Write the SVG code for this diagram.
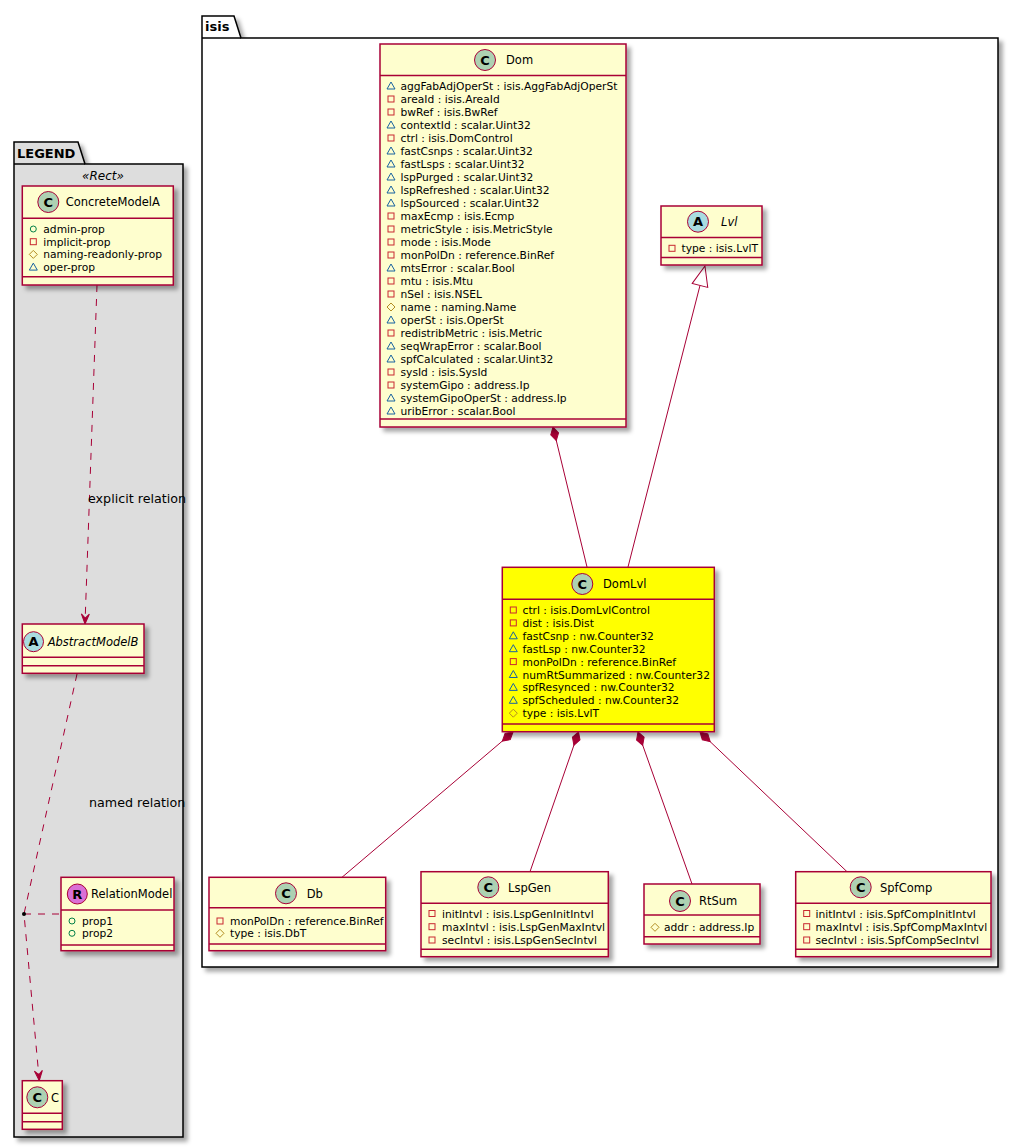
<svg xmlns="http://www.w3.org/2000/svg" width="1020" height="1148" viewBox="0 0 1020 1148">
<defs>
<filter id="sh" x="-20%" y="-20%" width="150%" height="150%">
<feDropShadow dx="4" dy="4" stdDeviation="2" flood-color="#000" flood-opacity="0.35"/>
</filter>
<marker id="diamond" markerUnits="userSpaceOnUse" markerWidth="16" markerHeight="10" refX="0" refY="0" orient="auto" overflow="visible">
<path d="M0,0 L7,-4 L14,0 L7,4 Z" fill="#A80036" stroke="#A80036" stroke-width="1"/>
</marker>
<marker id="tri" markerUnits="userSpaceOnUse" markerWidth="22" markerHeight="18" refX="0" refY="0" orient="auto" overflow="visible">
<path d="M0,-8 L20,0 L0,8 Z" fill="#FFFFFF" stroke="#A80036" stroke-width="1"/>
</marker>
<marker id="open" markerUnits="userSpaceOnUse" markerWidth="12" markerHeight="10" refX="0" refY="0" orient="auto" overflow="visible">
<path d="M0,0 L-10,-4 L-6,0 L-10,4 Z" fill="#A80036" stroke="#A80036" stroke-width="1"/>
</marker>
<rect id="priv" x="-3" y="-3" width="6" height="6" fill="none" stroke="#C82930" stroke-width="1"/>
<polygon id="pkg" points="-4,3 0,-4 4,3" fill="none" stroke="#1963A0" stroke-width="1"/>
<polygon id="prot" points="0,-4 4,0 0,4 -4,0" fill="none" stroke="#B38D22" stroke-width="1"/>
<circle id="pub" cx="0" cy="0" r="3" fill="none" stroke="#038048" stroke-width="1"/>
</defs>
<style>
.box{fill:#FEFECE;stroke:#A80036;stroke-width:1.5;filter:url(#sh)}
.hl{fill:#FFFF00}
.sep{stroke:#A80036;stroke-width:1.5}
.spot{stroke:#A80036;stroke-width:1}
.sC{fill:#ADD1B2}
.sA{fill:#A9DCDF}
.sR{fill:#DA70D6}
.sl{font-family:"DejaVu Sans",sans-serif;font-weight:bold;font-size:13px;text-anchor:middle;fill:#000}
.nm{font-family:"DejaVu Sans",sans-serif;font-size:11.5px;fill:#000}
.it{font-style:italic}
.at{font-family:"DejaVu Sans",sans-serif;font-size:10.7px;fill:#000}
.lbl{font-family:"DejaVu Sans",sans-serif;font-size:12.7px;fill:#000}
.pk{fill:#FFFFFF;stroke:#000;stroke-width:1.5;filter:url(#sh)}
.pkl{fill:#DDDDDD;stroke:#000;stroke-width:1.5;filter:url(#sh)}
.pkline{stroke:#000;stroke-width:1.5}
.pkn{font-family:"DejaVu Sans",sans-serif;font-weight:bold;font-size:13px;fill:#000}
.st{font-family:"DejaVu Sans",sans-serif;font-style:italic;font-size:12px;text-anchor:middle;fill:#000}
.ln{fill:none;stroke:#A80036;stroke-width:1}
.dash{stroke-dasharray:7,7}
</style>

<g id="pkg-isis">
<polygon class="pk" points="202,16 234,16 241,38 998,38 998,967 202,967"/>
<line class="pkline" x1="202" y1="38" x2="241" y2="38"/>
<text class="pkn" x="205" y="31">isis</text>
</g>

<g id="pkg-legend">
<polygon class="pkl" points="14,142 78,142 85,164 183,164 183,1137 14,1137"/>
<line class="pkline" x1="14" y1="164" x2="85" y2="164"/>
<text class="pkn" x="17" y="157.5">LEGEND</text>
<text class="st" x="103" y="179.5">«Rect»</text>
</g>

<g id="connectors">
<path class="ln" d="M553,427 L587,567" marker-start="url(#diamond)"/>
<path class="ln" d="M628,567 L700,285.4" marker-end="url(#tri)"/>
<path class="ln" d="M513,732 L342,877.3" marker-start="url(#diamond)"/>
<path class="ln" d="M578.5,732 L530,871.7" marker-start="url(#diamond)"/>
<path class="ln" d="M638,732 L692,884" marker-start="url(#diamond)"/>
<path class="ln" d="M700,732 L847,871.7" marker-start="url(#diamond)"/>
<path class="ln dash" d="M97,285 L85,624" marker-end="url(#open)"/>
<path class="ln dash" d="M77,674 L24,914 L39.3,1080.7" marker-end="url(#open)"/>
<path class="ln dash" d="M24,914 L61,914"/>
<circle cx="24" cy="914" r="2" fill="#000"/>
<text class="lbl" x="88" y="502.5">explicit relation</text>
<text class="lbl" x="89" y="806.5">named relation</text>
</g>

<g id="Dom">
<rect class="box" x="380" y="44" width="246" height="383"/>
<line class="sep" x1="380" y1="75.5" x2="626" y2="75.5"/>
<line class="sep" x1="380" y1="419" x2="626" y2="419"/>
<circle class="spot sC" cx="485" cy="60" r="10.5"/>
<text class="sl" x="485" y="64.7">C</text>
<text class="nm" x="506" y="64.2">Dom</text>
<use href="#pkg" x="391" y="86"/><text class="at" x="400.5" y="90">aggFabAdjOperSt : isis.AggFabAdjOperSt</text>
<use href="#priv" x="391" y="99"/><text class="at" x="400.5" y="103">areaId : isis.AreaId</text>
<use href="#priv" x="391" y="112"/><text class="at" x="400.5" y="116">bwRef : isis.BwRef</text>
<use href="#pkg" x="391" y="125"/><text class="at" x="400.5" y="129">contextId : scalar.Uint32</text>
<use href="#priv" x="391" y="138"/><text class="at" x="400.5" y="142">ctrl : isis.DomControl</text>
<use href="#pkg" x="391" y="151"/><text class="at" x="400.5" y="155">fastCsnps : scalar.Uint32</text>
<use href="#pkg" x="391" y="164"/><text class="at" x="400.5" y="168">fastLsps : scalar.Uint32</text>
<use href="#pkg" x="391" y="177"/><text class="at" x="400.5" y="181">lspPurged : scalar.Uint32</text>
<use href="#pkg" x="391" y="190"/><text class="at" x="400.5" y="194">lspRefreshed : scalar.Uint32</text>
<use href="#pkg" x="391" y="203"/><text class="at" x="400.5" y="207">lspSourced : scalar.Uint32</text>
<use href="#priv" x="391" y="216"/><text class="at" x="400.5" y="220">maxEcmp : isis.Ecmp</text>
<use href="#priv" x="391" y="229"/><text class="at" x="400.5" y="233">metricStyle : isis.MetricStyle</text>
<use href="#priv" x="391" y="242"/><text class="at" x="400.5" y="246">mode : isis.Mode</text>
<use href="#priv" x="391" y="255"/><text class="at" x="400.5" y="259">monPolDn : reference.BinRef</text>
<use href="#pkg" x="391" y="268"/><text class="at" x="400.5" y="272">mtsError : scalar.Bool</text>
<use href="#priv" x="391" y="281"/><text class="at" x="400.5" y="285">mtu : isis.Mtu</text>
<use href="#priv" x="391" y="294"/><text class="at" x="400.5" y="298">nSel : isis.NSEL</text>
<use href="#prot" x="391" y="307"/><text class="at" x="400.5" y="311">name : naming.Name</text>
<use href="#pkg" x="391" y="320"/><text class="at" x="400.5" y="324">operSt : isis.OperSt</text>
<use href="#priv" x="391" y="333"/><text class="at" x="400.5" y="337">redistribMetric : isis.Metric</text>
<use href="#pkg" x="391" y="346"/><text class="at" x="400.5" y="350">seqWrapError : scalar.Bool</text>
<use href="#pkg" x="391" y="359"/><text class="at" x="400.5" y="363">spfCalculated : scalar.Uint32</text>
<use href="#priv" x="391" y="372"/><text class="at" x="400.5" y="376">sysId : isis.SysId</text>
<use href="#priv" x="391" y="385"/><text class="at" x="400.5" y="389">systemGipo : address.Ip</text>
<use href="#pkg" x="391" y="398"/><text class="at" x="400.5" y="402">systemGipoOperSt : address.Ip</text>
<use href="#pkg" x="391" y="411"/><text class="at" x="400.5" y="415">uribError : scalar.Bool</text>
</g>

<g id="Lvl">
<rect class="box" x="661" y="206" width="101" height="59"/>
<line class="sep" x1="661" y1="237.5" x2="762" y2="237.5"/>
<line class="sep" x1="661" y1="257.5" x2="762" y2="257.5"/>
<circle class="spot sA" cx="698" cy="221.7" r="10.5"/>
<text class="sl" x="698" y="226.4">A</text>
<text class="nm it" x="721" y="225.9">Lvl</text>
<use href="#priv" x="672" y="248.3"/><text class="at" x="681.5" y="252.3">type : isis.LvlT</text>
</g>

<g id="DomLvl">
<rect class="box hl" x="502.3" y="567.3" width="212" height="164.4"/>
<line class="sep" x1="502.3" y1="599.3" x2="714.3" y2="599.3"/>
<line class="sep" x1="502.3" y1="724" x2="714.3" y2="724"/>
<circle class="spot sC" cx="582.3" cy="584" r="10.5"/>
<text class="sl" x="582.3" y="588.7">C</text>
<text class="nm" x="603" y="588.2">DomLvl</text>
<use href="#priv" x="513.3" y="610"/><text class="at" x="522.5" y="614">ctrl : isis.DomLvlControl</text>
<use href="#priv" x="513.3" y="622.9"/><text class="at" x="522.5" y="626.9">dist : isis.Dist</text>
<use href="#pkg" x="513.3" y="635.8"/><text class="at" x="522.5" y="639.8">fastCsnp : nw.Counter32</text>
<use href="#pkg" x="513.3" y="648.7"/><text class="at" x="522.5" y="652.7">fastLsp : nw.Counter32</text>
<use href="#priv" x="513.3" y="661.6"/><text class="at" x="522.5" y="665.6">monPolDn : reference.BinRef</text>
<use href="#pkg" x="513.3" y="674.5"/><text class="at" x="522.5" y="678.5">numRtSummarized : nw.Counter32</text>
<use href="#pkg" x="513.3" y="687.4"/><text class="at" x="522.5" y="691.4">spfResynced : nw.Counter32</text>
<use href="#pkg" x="513.3" y="700.3"/><text class="at" x="522.5" y="704.3">spfScheduled : nw.Counter32</text>
<use href="#prot" x="513.3" y="713.2"/><text class="at" x="522.5" y="717.2">type : isis.LvlT</text>
</g>

<g id="Db">
<rect class="box" x="209" y="877.3" width="176.7" height="73.4"/>
<line class="sep" x1="209" y1="907.7" x2="385.7" y2="907.7"/>
<line class="sep" x1="209" y1="944" x2="385.7" y2="944"/>
<circle class="spot sC" cx="286" cy="893.3" r="10.5"/>
<text class="sl" x="286" y="898">C</text>
<text class="nm" x="306.7" y="897.5">Db</text>
<use href="#priv" x="220" y="921"/><text class="at" x="230" y="925">monPolDn : reference.BinRef</text>
<use href="#prot" x="220" y="933.3"/><text class="at" x="230" y="937.3">type : isis.DbT</text>
</g>

<g id="LspGen">
<rect class="box" x="421" y="871.7" width="187.3" height="85"/>
<line class="sep" x1="421" y1="903.3" x2="608.3" y2="903.3"/>
<line class="sep" x1="421" y1="949.3" x2="608.3" y2="949.3"/>
<circle class="spot sC" cx="488.3" cy="887.3" r="10.5"/>
<text class="sl" x="488.3" y="892">C</text>
<text class="nm" x="508" y="891.5">LspGen</text>
<use href="#priv" x="432" y="913.5"/><text class="at" x="442" y="917.5">initIntvl : isis.LspGenInitIntvl</text>
<use href="#priv" x="432" y="926.7"/><text class="at" x="442" y="930.7">maxIntvl : isis.LspGenMaxIntvl</text>
<use href="#priv" x="432" y="940"/><text class="at" x="442" y="944">secIntvl : isis.LspGenSecIntvl</text>
</g>

<g id="RtSum">
<rect class="box" x="644" y="884" width="116" height="60"/>
<line class="sep" x1="644" y1="915" x2="760" y2="915"/>
<line class="sep" x1="644" y1="936.7" x2="760" y2="936.7"/>
<circle class="spot sC" cx="680" cy="901" r="10.5"/>
<text class="sl" x="680" y="905.7">C</text>
<text class="nm" x="699" y="905.2">RtSum</text>
<use href="#prot" x="655" y="927.3"/><text class="at" x="664" y="931.3">addr : address.Ip</text>
</g>

<g id="SpfComp">
<rect class="box" x="795.7" y="871.7" width="195.3" height="85"/>
<line class="sep" x1="795.7" y1="903.3" x2="991" y2="903.3"/>
<line class="sep" x1="795.7" y1="949.3" x2="991" y2="949.3"/>
<circle class="spot sC" cx="860.7" cy="887.3" r="10.5"/>
<text class="sl" x="860.7" y="892">C</text>
<text class="nm" x="880" y="891.5">SpfComp</text>
<use href="#priv" x="806.7" y="913.5"/><text class="at" x="815.5" y="917.5">initIntvl : isis.SpfCompInitIntvl</text>
<use href="#priv" x="806.7" y="926.7"/><text class="at" x="815.5" y="930.7">maxIntvl : isis.SpfCompMaxIntvl</text>
<use href="#priv" x="806.7" y="940"/><text class="at" x="815.5" y="944">secIntvl : isis.SpfCompSecIntvl</text>
</g>

<g id="ConcreteModelA">
<rect class="box" x="22.3" y="186" width="151" height="99"/>
<line class="sep" x1="22.3" y1="218.3" x2="173.3" y2="218.3"/>
<line class="sep" x1="22.3" y1="276.7" x2="173.3" y2="276.7"/>
<circle class="spot sC" cx="48.3" cy="202" r="10.5"/>
<text class="sl" x="48.3" y="206.7">C</text>
<text class="nm" x="65.7" y="206.2">ConcreteModelA</text>
<use href="#pub" x="33.3" y="229"/><text class="at" x="43.3" y="233">admin-prop</text>
<use href="#priv" x="33.3" y="241.7"/><text class="at" x="43.3" y="245.7">implicit-prop</text>
<use href="#prot" x="33.3" y="254.4"/><text class="at" x="43.3" y="258.4">naming-readonly-prop</text>
<use href="#pkg" x="33.3" y="267.1"/><text class="at" x="43.3" y="271.1">oper-prop</text>
</g>

<g id="AbstractModelB">
<rect class="box" x="22.3" y="624" width="121.7" height="49.3"/>
<line class="sep" x1="22.3" y1="657.3" x2="144" y2="657.3"/>
<line class="sep" x1="22.3" y1="665.7" x2="144" y2="665.7"/>
<circle class="spot sA" cx="33.5" cy="641.7" r="10"/>
<text class="sl" x="33.5" y="646.4">A</text>
<text class="nm it" x="47.7" y="645.9">AbstractModelB</text>
</g>

<g id="RelationModel">
<rect class="box" x="61" y="877.3" width="113" height="73.4"/>
<line class="sep" x1="61" y1="910" x2="174" y2="910"/>
<line class="sep" x1="61" y1="945" x2="174" y2="945"/>
<circle class="spot sR" cx="77.3" cy="894" r="10"/>
<text class="sl" x="77.3" y="898.7">R</text>
<text class="nm" x="91" y="898.2">RelationModel</text>
<use href="#pub" x="72" y="921"/><text class="at" x="82" y="925">prop1</text>
<use href="#pub" x="72" y="933.3"/><text class="at" x="82" y="937.3">prop2</text>
</g>

<g id="C">
<rect class="box" x="22.3" y="1080.7" width="40" height="48.6"/>
<line class="sep" x1="22.3" y1="1113.3" x2="62.3" y2="1113.3"/>
<line class="sep" x1="22.3" y1="1121.7" x2="62.3" y2="1121.7"/>
<circle class="spot sC" cx="37.3" cy="1097.3" r="10.5"/>
<text class="sl" x="37.3" y="1102">C</text>
<text class="nm" x="51" y="1101.5">C</text>
</g>
</svg>
